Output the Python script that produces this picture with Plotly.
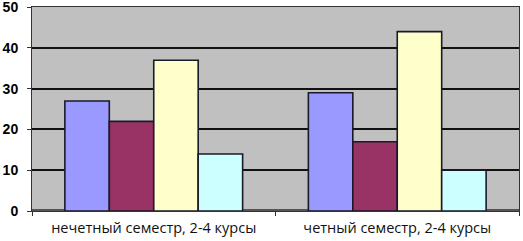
import plotly.graph_objects as go

categories = ["нечетный семестр, 2-4 курсы", "четный семестр, 2-4 курсы"]
series_a = [27, 29]
series_b = [22, 17]
series_c = [37, 44]
series_d = [14, 10]
colors = ["#9999FF", "#993366", "#FFFFCC", "#CCFFFF"]
y_ticks = [0, 10, 20, 30, 40, 50]

fig = go.Figure()
for vals, col, name in zip([series_a, series_b, series_c, series_d], colors, ["A", "B", "C", "D"]):
    fig.add_trace(go.Bar(
        x=categories, y=vals, name=name,
        marker=dict(color=col, line=dict(color="#1a1a2a", width=1.6)),
    ))

fig.add_shape(type="line", xref="paper", yref="y", x0=0, x1=1, y0=0, y1=0,
              line=dict(color="#555", width=4), layer="below")

fig.update_layout(
    width=523, height=241,
    margin=dict(l=32, r=4, t=7, b=30),
    paper_bgcolor="white",
    plot_bgcolor="#C0C0C0",
    barmode="group",
    bargap=0.27,
    bargroupgap=0,
    showlegend=False,
    font=dict(family="Open Sans", color="#000"),
)
fig.update_yaxes(
    range=[0, 50.05], tickvals=y_ticks, ticktext=[str(v) for v in y_ticks],
    automargin=False, ticklabeloverflow="allow",
    showgrid=True, gridcolor="#111", gridwidth=1.5,
    zeroline=False,
    showline=True, linecolor="#333", linewidth=1, mirror=True,
    ticks="outside", ticklen=4, tickcolor="#333", ticklabelstandoff=6,
    tickfont=dict(family="Liberation Sans", size=14, color="#000", weight="bold"),
)
fig.update_xaxes(
    automargin=False,
    showline=True, linecolor="#333", linewidth=1, mirror=True,
    ticks="outside", ticklen=4, tickcolor="#333", tickson="boundaries",
    ticklabelstandoff=4,
    tickfont=dict(family="Open Sans", size=14.5, color="#111"),
)
fig.write_html("out.html", config={"displayModeBar": False},
               post_script="document.body.style.margin='0';")
